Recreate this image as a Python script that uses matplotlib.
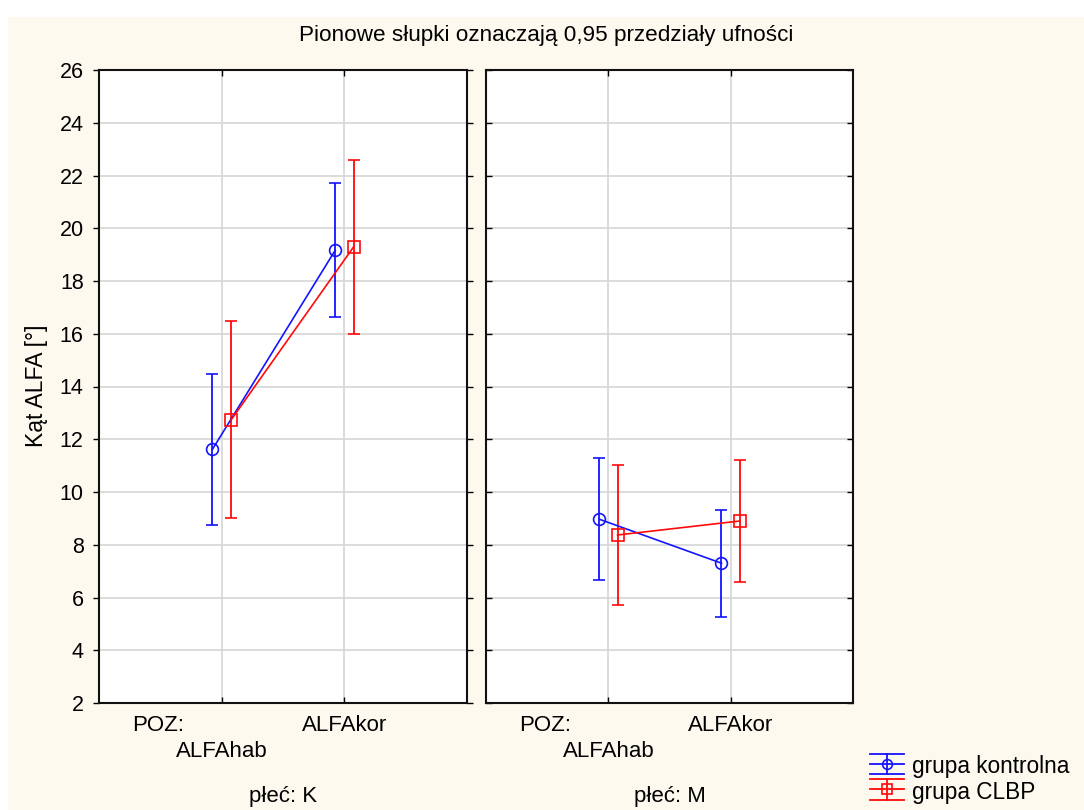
import matplotlib.pyplot as plt
import numpy as np
from matplotlib.patches import Rectangle
from matplotlib.lines import Line2D
import matplotlib.transforms as mtransforms

plt.rcParams['font.family'] = ['Liberation Sans', 'DejaVu Sans']

# data
panels = ["płeć: K", "płeć: M"]
categories = ["ALFAhab", "ALFAkor"]
groups = ["grupa kontrolna", "grupa CLBP"]

# mean, lower, upper per panel -> per group -> per category
kontr_mean = [[11.62, 19.16], [8.97, 7.30]]
kontr_low = [[8.75, 16.63], [6.68, 5.27]]
kontr_up = [[14.48, 21.70], [11.28, 9.33]]

clbp_mean = [[12.72, 19.29], [8.37, 8.90]]
clbp_low = [[9.01, 16.00], [5.73, 6.57]]
clbp_up = [[16.47, 22.58], [11.01, 11.23]]

colors = ["#1414ff", "#ff0a0a"]
markers = ["o", "s"]
offsets = [-0.075, 0.075]
yticks = np.arange(2, 27, 2)
FS = 16

W, H = 1084, 810
fig = plt.figure(figsize=(W / 100, H / 100), dpi=100, facecolor="white")
fig.patches.append(Rectangle((8 / W, 0), 1, 1 - 17 / H, transform=fig.transFigure,
                             facecolor="#fdf9ef", edgecolor="none", zorder=-10))

def box(x0, x1, y0, y1):
    return [x0 / W, 1 - y1 / H, (x1 - x0) / W, (y1 - y0) / H]

axes = [fig.add_axes(box(99, 467, 70, 703)), fig.add_axes(box(486, 853, 70, 703))]

series = [(kontr_mean, kontr_low, kontr_up), (clbp_mean, clbp_low, clbp_up)]

for p, ax in enumerate(axes):
    ax.set_facecolor("white")
    x = np.arange(len(categories))
    for g, (m, lo, up) in enumerate(series):
        mean = np.array(m[p])
        err = np.vstack([mean - np.array(lo[p]), np.array(up[p]) - mean])
        ax.errorbar(x + offsets[g], mean, yerr=err, color=colors[g], marker=markers[g],
                    markersize=8.5, markerfacecolor="none", markeredgewidth=1.2,
                    lw=1.2, elinewidth=1.3, capsize=4.5, capthick=1.3, zorder=3)
    ax.set_xlim(-1, 2)
    ax.set_ylim(2, 26)
    ax.set_yticks(yticks)
    ax.set_xticks(x)
    ax.set_xticklabels([])
    ax.grid(True, color="#d6d6d6", lw=1.2)
    ax.set_axisbelow(True)
    for s in ax.spines.values():
        s.set_linewidth(1.5)
        s.set_color("#111111")
    ax.tick_params(axis="y", direction="in", length=4, right=True, width=1, labelsize=15.5)
    ax.tick_params(axis="x", direction="in", length=4, top=True, width=1)
    if p == 0:
        ax.tick_params(axis="y", which="both", left=True, direction="out", length=4)
        ax.tick_params(axis="y", labelleft=True, pad=7)
    else:
        ax.tick_params(axis="y", labelleft=False)

    trans = mtransforms.blended_transform_factory(ax.transData, ax.transAxes)
    ax.text(-0.52, -0.036, "POZ:", transform=trans, ha="center", va="center", fontsize=FS)
    ax.text(0, -0.077, categories[0], transform=trans, ha="center", va="center", fontsize=FS)
    ax.text(1, -0.036, categories[1], transform=trans, ha="center", va="center", fontsize=FS)
    ax.text(0.5, -0.147, panels[p], transform=ax.transAxes, ha="center", va="center", fontsize=FS)

fig.text(546 / W, 1 - 36 / H, "Pionowe słupki oznaczają 0,95 przedziały ufności",
         ha="center", va="center", fontsize=16.2)
fig.text(37 / W, 1 - 386 / H, "Kąt ALFA [°]", rotation=90, ha="center", va="center", fontsize=16.5)

# legend drawn as a small key
lax = fig.add_axes([0, 0, 1, 1], facecolor="none")
lax.set_xlim(0, W)
lax.set_ylim(H, 0)
lax.axis("off")
key_rows = [(754, 764, 774), (779, 789, 800)]
for g, (top, mid, bot) in enumerate(key_rows):
    for yy in (top, mid, bot):
        lax.add_line(Line2D([870, 904], [yy, yy], color=colors[g], lw=1.3))
    lax.add_line(Line2D([887, 887], [top, bot], color=colors[g], lw=1.3))
    lax.add_line(Line2D([887], [mid], color=colors[g], marker=markers[g], markersize=7,
                        markerfacecolor="none", markeredgewidth=1.2))
    lax.text(912, mid + 3, groups[g], ha="left", va="center", fontsize=16.3)

fig.savefig("out.png", dpi=100, facecolor=fig.get_facecolor())
